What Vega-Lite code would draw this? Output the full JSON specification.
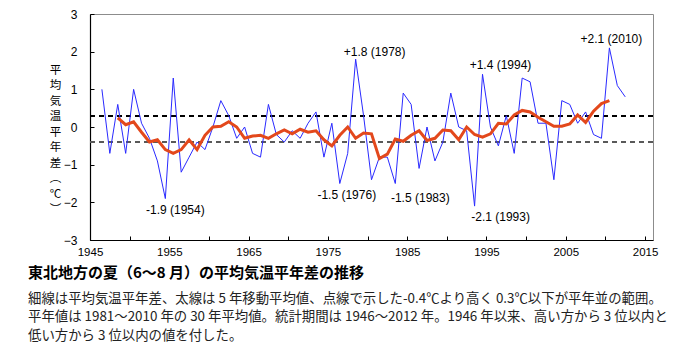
{
  "$schema": "https://vega.github.io/schema/vega-lite/v6.json",
  "width": 563,
  "height": 226,
  "autosize": {"type": "none"},
  "padding": {"left": 90, "top": 14, "right": 47, "bottom": 110},
  "background": "white",
  "config": {
    "view": {"stroke": "#8c8c8c", "strokeWidth": 1},
    "font": "Liberation Sans"
  },
  "title": {
    "text": "東北地方の夏（6～8 月）の平均気温平年差の推移",
    "subtitle": [
      "細線は平均気温平年差、太線は 5 年移動平均値、点線で示した-0.4℃より高く 0.3℃以下が平年並の範囲。",
      "平年値は 1981～2010 年の 30 年平均値。統計期間は 1946～2012 年。1946 年以来、高い方から 3 位以内と",
      "低い方から 3 位以内の値を付した。"
    ],
    "orient": "bottom",
    "anchor": "start",
    "frame": "group",
    "dx": -62,
    "offset": 8,
    "font": "Noto Sans CJK JP",
    "fontSize": 15,
    "fontWeight": "bold",
    "color": "#000000",
    "subtitleFont": "Noto Sans CJK JP",
    "subtitleFontSize": 13.4,
    "subtitleColor": "#222222",
    "subtitleLineHeight": 18.5,
    "subtitlePadding": 11
  },
  "datasets": {
    "main": [
      {"year": 1946, "anomaly": 1.0, "ma5": null, "label": null},
      {"year": 1947, "anomaly": -0.7, "ma5": null, "label": null},
      {"year": 1948, "anomaly": 0.6, "ma5": 0.24, "label": null},
      {"year": 1949, "anomaly": -0.7, "ma5": 0.06, "label": null},
      {"year": 1950, "anomaly": 1.0, "ma5": 0.14, "label": null},
      {"year": 1951, "anomaly": 0.1, "ma5": -0.14, "label": null},
      {"year": 1952, "anomaly": -0.3, "ma5": -0.4, "label": null},
      {"year": 1953, "anomaly": -0.9, "ma5": -0.34, "label": null},
      {"year": 1954, "anomaly": -1.9, "ma5": -0.6, "label": "-1.9 (1954)"},
      {"year": 1955, "anomaly": 1.3, "ma5": -0.7, "label": null},
      {"year": 1956, "anomaly": -1.2, "ma5": -0.6, "label": null},
      {"year": 1957, "anomaly": -0.8, "ma5": -0.34, "label": null},
      {"year": 1958, "anomaly": -0.4, "ma5": -0.6, "label": null},
      {"year": 1959, "anomaly": -0.6, "ma5": -0.22, "label": null},
      {"year": 1960, "anomaly": 0.0, "ma5": 0.0, "label": null},
      {"year": 1961, "anomaly": 0.7, "ma5": 0.02, "label": null},
      {"year": 1962, "anomaly": 0.3, "ma5": 0.14, "label": null},
      {"year": 1963, "anomaly": -0.3, "ma5": 0.0, "label": null},
      {"year": 1964, "anomaly": 0.0, "ma5": -0.3, "label": null},
      {"year": 1965, "anomaly": -0.7, "ma5": -0.24, "label": null},
      {"year": 1966, "anomaly": -0.8, "ma5": -0.22, "label": null},
      {"year": 1967, "anomaly": 0.6, "ma5": -0.3, "label": null},
      {"year": 1968, "anomaly": -0.2, "ma5": -0.18, "label": null},
      {"year": 1969, "anomaly": -0.4, "ma5": -0.08, "label": null},
      {"year": 1970, "anomaly": -0.1, "ma5": -0.18, "label": null},
      {"year": 1971, "anomaly": -0.3, "ma5": -0.06, "label": null},
      {"year": 1972, "anomaly": 0.1, "ma5": -0.14, "label": null},
      {"year": 1973, "anomaly": 0.4, "ma5": -0.1, "label": null},
      {"year": 1974, "anomaly": -0.8, "ma5": -0.34, "label": null},
      {"year": 1975, "anomaly": 0.1, "ma5": -0.5, "label": null},
      {"year": 1976, "anomaly": -1.5, "ma5": -0.22, "label": "-1.5 (1976)"},
      {"year": 1977, "anomaly": -0.7, "ma5": 0.0, "label": null},
      {"year": 1978, "anomaly": 1.8, "ma5": -0.3, "label": "+1.8 (1978)"},
      {"year": 1979, "anomaly": 0.3, "ma5": -0.16, "label": null},
      {"year": 1980, "anomaly": -1.4, "ma5": -0.18, "label": null},
      {"year": 1981, "anomaly": -0.8, "ma5": -0.84, "label": null},
      {"year": 1982, "anomaly": -0.8, "ma5": -0.72, "label": null},
      {"year": 1983, "anomaly": -1.5, "ma5": -0.32, "label": "-1.5 (1983)"},
      {"year": 1984, "anomaly": 0.9, "ma5": -0.38, "label": null},
      {"year": 1985, "anomaly": 0.6, "ma5": -0.22, "label": null},
      {"year": 1986, "anomaly": -1.1, "ma5": -0.1, "label": null},
      {"year": 1987, "anomaly": 0.0, "ma5": -0.36, "label": null},
      {"year": 1988, "anomaly": -0.9, "ma5": -0.3, "label": null},
      {"year": 1989, "anomaly": -0.4, "ma5": -0.08, "label": null},
      {"year": 1990, "anomaly": 0.9, "ma5": -0.1, "label": null},
      {"year": 1991, "anomaly": 0.0, "ma5": -0.34, "label": null},
      {"year": 1992, "anomaly": -0.1, "ma5": 0.0, "label": null},
      {"year": 1993, "anomaly": -2.1, "ma5": -0.2, "label": "-2.1 (1993)"},
      {"year": 1994, "anomaly": 1.4, "ma5": -0.27, "label": "+1.4 (1994)"},
      {"year": 1995, "anomaly": 0.0, "ma5": -0.18, "label": null},
      {"year": 1996, "anomaly": -0.5, "ma5": 0.1, "label": null},
      {"year": 1997, "anomaly": 0.3, "ma5": 0.08, "label": null},
      {"year": 1998, "anomaly": -0.7, "ma5": 0.32, "label": null},
      {"year": 1999, "anomaly": 1.3, "ma5": 0.44, "label": null},
      {"year": 2000, "anomaly": 1.2, "ma5": 0.4, "label": null},
      {"year": 2001, "anomaly": 0.1, "ma5": 0.26, "label": null},
      {"year": 2002, "anomaly": 0.1, "ma5": 0.14, "label": null},
      {"year": 2003, "anomaly": -1.4, "ma5": 0.02, "label": null},
      {"year": 2004, "anomaly": 0.7, "ma5": 0.02, "label": null},
      {"year": 2005, "anomaly": 0.6, "ma5": 0.08, "label": null},
      {"year": 2006, "anomaly": 0.1, "ma5": 0.32, "label": null},
      {"year": 2007, "anomaly": 0.4, "ma5": 0.12, "label": null},
      {"year": 2008, "anomaly": -0.2, "ma5": 0.42, "label": null},
      {"year": 2009, "anomaly": -0.3, "ma5": 0.62, "label": null},
      {"year": 2010, "anomaly": 2.1, "ma5": 0.7, "label": "+2.1 (2010)"},
      {"year": 2011, "anomaly": 1.1, "ma5": null, "label": null},
      {"year": 2012, "anomaly": 0.8, "ma5": null, "label": null}
    ]
  },
  "data": {"name": "main"},
  "encoding": {
    "y": {
      "type": "quantitative",
      "scale": {"domain": [-3, 3], "nice": false, "zero": false},
      "axis": {
        "title": ["平", "均", "気", "温", "平", "年", "差", "︵", "℃", "︶"],
        "titleAngle": 0,
        "titleFont": "Noto Sans CJK JP",
        "titleFontSize": 11.5,
        "titleFontWeight": "normal",
        "titleColor": "#000000",
        "titleLineHeight": 15.5,
        "titleAlign": "center",
        "titleBaseline": "top",
        "titleX": -35,
        "titleY": 50,
        "values": [-3, -2, -1, 0, 1, 2, 3],
        "labelFont": "Liberation Sans",
        "labelFontSize": 12,
        "labelColor": "#000000",
        "labelPadding": 17,
        "grid": false,
        "tickSize": -4,
        "tickColor": "#000000",
        "domainColor": "#000000",
        "domainWidth": 1.2
      }
    }
  },
  "layer": [
    {
      "mark": {"type": "rule", "stroke": "#000000", "strokeWidth": 1.5, "strokeDash": [5, 4]},
      "encoding": {"y": {"datum": 0.3}}
    },
    {
      "mark": {"type": "rule", "stroke": "#5a5a5a", "strokeWidth": 1.5, "strokeDash": [5, 4]},
      "encoding": {"y": {"datum": -0.4}}
    },
    {
      "mark": {"type": "line", "stroke": "#2a2aff", "strokeWidth": 1},
      "encoding": {
        "x": {
          "field": "year",
          "type": "quantitative",
          "scale": {"domain": [1944.5, 2015.5], "nice": false, "zero": false},
          "axis": {
            "title": null,
            "values": [1944.5, 1949.5, 1954.5, 1959.5, 1964.5, 1969.5, 1974.5, 1979.5, 1984.5, 1989.5, 1994.5, 1999.5, 2004.5, 2009.5, 2014.5],
            "labelExpr": "(datum.value + 0.5) % 10 == 5 ? format(datum.value + 0.5, 'd') : ''",
            "labelOverlap": false,
            "labelFlush": false,
            "labelFont": "Liberation Sans",
            "labelFontSize": 11.5,
            "labelColor": "#000000",
            "labelPadding": 10,
            "labelDx": 2,
            "grid": false,
            "tickSize": -4,
            "tickColor": "#000000",
            "domainColor": "#000000",
            "domainWidth": 1.2
          }
        },
        "y": {"field": "anomaly"}
      }
    },
    {
      "mark": {"type": "line", "stroke": "#e3481c", "strokeWidth": 3},
      "encoding": {"x": {"field": "year", "type": "quantitative"}, "y": {"field": "ma5"}}
    },
    {
      "transform": [{"filter": "datum.year == 2010"}],
      "mark": {"type": "text", "font": "Liberation Sans", "fontSize": 12, "color": "#000000", "baseline": "middle", "dx": 2, "dy": -9},
      "encoding": {"x": {"field": "year", "type": "quantitative"}, "y": {"field": "anomaly"}, "text": {"field": "label"}}
    },
    {
      "transform": [{"filter": "datum.year == 1978"}],
      "mark": {"type": "text", "font": "Liberation Sans", "fontSize": 12, "color": "#000000", "baseline": "middle", "dx": 19, "dy": -7},
      "encoding": {"x": {"field": "year", "type": "quantitative"}, "y": {"field": "anomaly"}, "text": {"field": "label"}}
    },
    {
      "transform": [{"filter": "datum.year == 1994"}],
      "mark": {"type": "text", "font": "Liberation Sans", "fontSize": 12, "color": "#000000", "baseline": "middle", "dx": 18, "dy": -9},
      "encoding": {"x": {"field": "year", "type": "quantitative"}, "y": {"field": "anomaly"}, "text": {"field": "label"}}
    },
    {
      "transform": [{"filter": "datum.year == 1954"}],
      "mark": {"type": "text", "font": "Liberation Sans", "fontSize": 12, "color": "#000000", "baseline": "middle", "dx": 10, "dy": 11},
      "encoding": {"x": {"field": "year", "type": "quantitative"}, "y": {"field": "anomaly"}, "text": {"field": "label"}}
    },
    {
      "transform": [{"filter": "datum.year == 1976"}],
      "mark": {"type": "text", "font": "Liberation Sans", "fontSize": 12, "color": "#000000", "baseline": "middle", "dx": 7, "dy": 11},
      "encoding": {"x": {"field": "year", "type": "quantitative"}, "y": {"field": "anomaly"}, "text": {"field": "label"}}
    },
    {
      "transform": [{"filter": "datum.year == 1983"}],
      "mark": {"type": "text", "font": "Liberation Sans", "fontSize": 12, "color": "#000000", "baseline": "middle", "dx": 25, "dy": 14},
      "encoding": {"x": {"field": "year", "type": "quantitative"}, "y": {"field": "anomaly"}, "text": {"field": "label"}}
    },
    {
      "transform": [{"filter": "datum.year == 1993"}],
      "mark": {"type": "text", "font": "Liberation Sans", "fontSize": 12, "color": "#000000", "baseline": "middle", "dx": 26, "dy": 11},
      "encoding": {"x": {"field": "year", "type": "quantitative"}, "y": {"field": "anomaly"}, "text": {"field": "label"}}
    }
  ]
}
